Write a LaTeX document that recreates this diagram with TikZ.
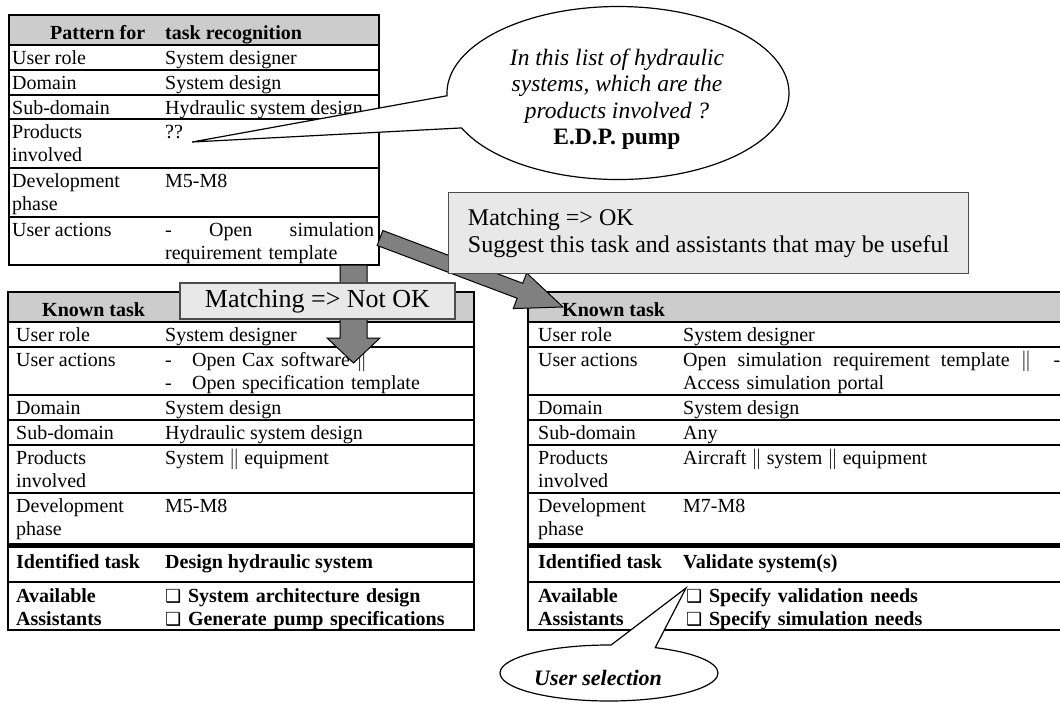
\documentclass[tikz,border=0pt]{standalone}
\usepackage{fontspec}
\setmainfont{Liberation Serif}
\newfontfamily\symfont{DejaVu Sans}
\usetikzlibrary{calc,shapes.callouts}

\definecolor{headgray}{gray}{0.8}
\definecolor{boxgray}{gray}{0.91}
\definecolor{arrowgray}{gray}{0.5}
\definecolor{boxedge}{gray}{0.3}

\newcommand{\tabfont}{\fontsize{20}{23}\selectfont}
\newcommand{\dbar}{$\|$}
\newcommand{\chk}{{\symfont\fontsize{18}{18}\selectfont ❑}}

\tikzset{
	cell/.style={anchor=base west,inner sep=0pt,font=\tabfont},
	headcell/.style={cell,font=\tabfont\bfseries},
	cellwide/.style={cell,text width=#1,align=left},
	headwide/.style={headcell,text width=#1,align=left},
	rowline/.style={line width=2.2pt},
	sepline/.style={line width=5pt},
	blockarrow/.style={fill=arrowgray,draw=black,line width=1pt,line join=miter},
	matchbox/.style={draw=boxedge,fill=boxgray,line width=1.2pt,inner sep=0pt},
	bubble/.style={ellipse callout,draw=black,fill=white,line width=1.2pt,inner sep=0pt}
}

% block arrow: tail, tip, shaft half width, head half width, head length
\newcommand{\blockarrow}[5]{%
	\coordinate (#1-#2) at ($(#2)!#5pt!(#1)$);
	\draw [blockarrow] ($(#1)!#3pt!90:(#2)$) -- ($(#1-#2)!#3pt!90:(#2)$) -- ($(#1-#2)!#4pt!90:(#2)$) -- (#2)
		-- ($(#1-#2)!#4pt!-90:(#2)$) -- ($(#1-#2)!#3pt!-90:(#2)$) -- ($(#1)!#3pt!-90:(#2)$) -- cycle;
}

\begin{document}
\begin{tikzpicture}[x=1pt,y=-1pt]
	\useasboundingbox (0,0) rectangle (1060,702); % page
	\clip (0,0) rectangle (1060,702); % right table runs off the page

	% pattern for task recognition
	\fill [headgray] (9,15) rectangle (379,45); % header
	\draw [rowline] (9,45) -- (379,45) (9,70) -- (379,70) (9,95) -- (379,95) (9,119) -- (379,119) (9,168) -- (379,168) (9,217) -- (379,217); % rows
	\draw [rowline] (9,15) rectangle (379,265); % frame
	\node [headcell] (pat-h1) at (50,39) {Pattern for};
	\node [headcell] (pat-h2) at (165,39) {task recognition};
	\node [cell] (pat-role) at (12,64) {User role};
	\node [cell] (pat-role-v) at (165,64) {System designer};
	\node [cell] (pat-dom) at (12,89) {Domain};
	\node [cell] (pat-dom-v) at (165,89) {System design};
	\node [cell] (pat-sub) at (12,114) {Sub-domain};
	\node [cell] (pat-sub-v) at (165,114) {Hydraulic system design};
	\node [cellwide=150pt] (pat-prod) at (12,138) {Products\\involved};
	\node [cell] (pat-prod-v) at (165,138) {??};
	\node [cellwide=150pt] (pat-dev) at (12,187) {Development\\phase};
	\node [cell] (pat-dev-v) at (165,187) {M5-M8};
	\node [cell] (pat-act) at (12,236) {User actions};
	\node [cellwide=215pt] (pat-act-v) at (165,236) {\hbox to 209pt{-\hfill Open\hfill simulation}\\requirement template};

	% known task, left
	\fill [headgray] (8,292) rectangle (474,322); % header
	\draw [rowline] (8,322) -- (474,322) (8,347) -- (474,347) (8,395) -- (474,395) (8,420) -- (474,420) (8,445) -- (474,445) (8,493) -- (474,493) (8,582) -- (474,582); % rows
	\draw [sepline] (8,545) -- (474,545); % task part
	\draw [rowline] (8,292) rectangle (474,630); % frame
	\node [headcell] (kl-h) at (42,316) {Known task};
	\node [cell] (kl-role) at (16,341) {User role};
	\node [cell] (kl-role-v) at (165,341) {System designer};
	\node [cell] (kl-act) at (16,366) {User actions};
	\node [cellwide=300pt] (kl-act-v) at (165,366) {\makebox[27pt][l]{-}Open Cax software \dbar\\\makebox[27pt][l]{-}Open specification template};
	\node [cell] (kl-dom) at (16,414) {Domain};
	\node [cell] (kl-dom-v) at (165,414) {System design};
	\node [cell] (kl-sub) at (16,439) {Sub-domain};
	\node [cell] (kl-sub-v) at (165,439) {Hydraulic system design};
	\node [cellwide=150pt] (kl-prod) at (16,464) {Products\\involved};
	\node [cell] (kl-prod-v) at (165,464) {System \dbar\ equipment};
	\node [cellwide=150pt] (kl-dev) at (16,512) {Development\\phase};
	\node [cell] (kl-dev-v) at (165,512) {M5-M8};
	\node [headcell] (kl-task) at (16,568) {Identified task};
	\node [headcell] (kl-task-v) at (165,568) {Design hydraulic system};
	\node [headwide=150pt] (kl-ass) at (16,602) {Available\\Assistants};
	\node [headwide=300pt] (kl-ass-v) at (165,602) {\chk\ System architecture design\\\chk\ Generate pump specifications};

	% known task, right
	\fill [headgray] (528,292) rectangle (1100,322); % header
	\draw [rowline] (528,322) -- (1100,322) (528,347) -- (1100,347) (528,395) -- (1100,395) (528,420) -- (1100,420) (528,445) -- (1100,445) (528,493) -- (1100,493) (528,582) -- (1100,582); % rows
	\draw [sepline] (528,545) -- (1100,545); % task part
	\draw [rowline] (528,292) rectangle (1100,630); % frame
	\node [headcell] (kr-h) at (562,316) {Known task};
	\node [cell] (kr-role) at (538,341) {User role};
	\node [cell] (kr-role-v) at (683,341) {System designer};
	\node [cell] (kr-act) at (538,366) {User actions};
	\node [cellwide=400pt] (kr-act-v) at (683,366) {\hbox to 377pt{Open\hfill simulation\hfill requirement\hfill template\hfill\dbar\hfill\hfill -}\\Access simulation portal};
	\node [cell] (kr-dom) at (538,414) {Domain};
	\node [cell] (kr-dom-v) at (683,414) {System design};
	\node [cell] (kr-sub) at (538,439) {Sub-domain};
	\node [cell] (kr-sub-v) at (683,439) {Any};
	\node [cellwide=150pt] (kr-prod) at (538,464) {Products\\involved};
	\node [cell] (kr-prod-v) at (683,464) {Aircraft \dbar\ system \dbar\ equipment};
	\node [cellwide=150pt] (kr-dev) at (538,512) {Development\\phase};
	\node [cell] (kr-dev-v) at (683,512) {M7-M8};
	\node [headcell] (kr-task) at (538,568) {Identified task};
	\node [headcell] (kr-task-v) at (683,568) {Validate system(s)};
	\node [headwide=150pt] (kr-ass) at (538,602) {Available\\Assistants};
	\node [headwide=300pt] (kr-ass-v) at (686,602) {\chk\ Specify validation needs\\\chk\ Specify simulation needs};

	% matching arrows
	\coordinate (down0) at (353.5,265); % below pattern
	\coordinate (down1) at (353.5,363); % into left task
	\blockarrow{down0}{down1}{13.5}{26.5}{25}
	\node [matchbox,minimum width=275pt,minimum height=36pt,font=\fontsize{26}{30}\selectfont] (nomatch) at (317.5,301) {Matching => Not OK};
	\coordinate (side0) at (380,238); % right of pattern
	\coordinate (side1) at (563,307); % into right task
	\blockarrow{side0}{side1}{8}{19}{46}
	\node [matchbox,anchor=north west,minimum width=520pt,minimum height=81pt,align=left,font=\fontsize{24}{27}\selectfont] (match) at (448,192) {Matching => OK\\Suggest this task and assistants that may be useful};

	% callouts
	\coordinate (asktip) at ($(pat-prod-v.base east)+(9,4)$); % at ??
	\node [bubble,minimum width=342pt,minimum height=173pt,callout absolute pointer={(asktip)},callout pointer arc=22] (ask) at (618,93) {};
	\node [align=center,font=\fontsize{23.5}{26.5}\selectfont\itshape] (ask-text) at (617,99) {In this list of hydraulic\\systems, which are the\\products involved ?\\\textbf{\upshape E.D.P. pump}};
	\coordinate (picktip) at ($(kr-ass-v.base west)+(0,-14)$); % at first assistant
	\node [bubble,minimum width=218pt,minimum height=56pt,callout absolute pointer={(picktip)},callout pointer arc=24] (pick) at (609,673) {};
	\node [font=\fontsize{22}{26}\selectfont\bfseries\itshape] (pick-text) at (598,678) {User selection};
\end{tikzpicture}
\end{document}
